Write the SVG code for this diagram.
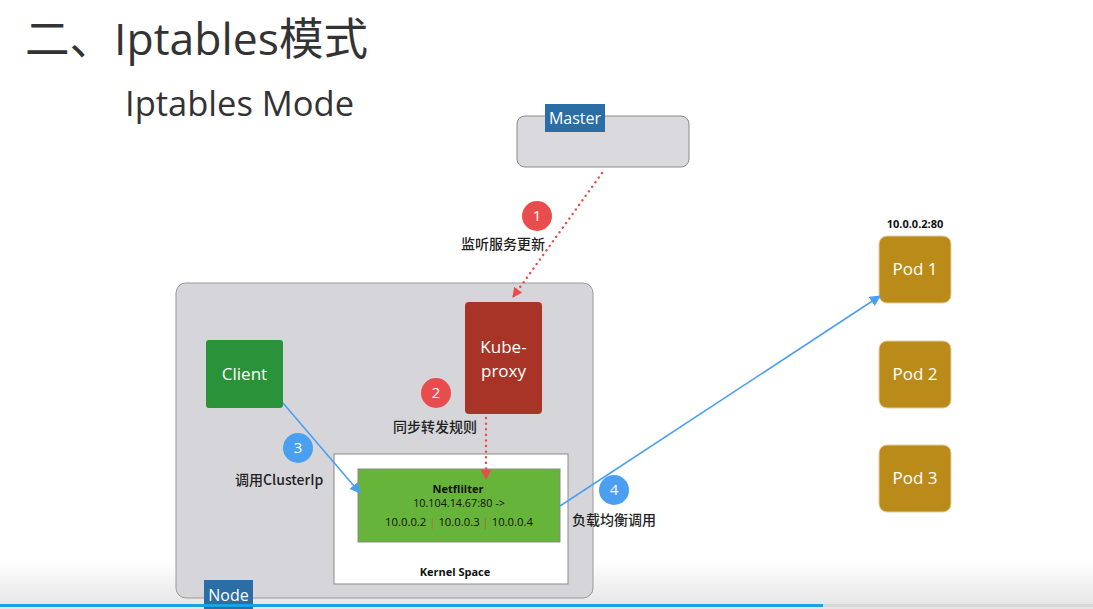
<svg xmlns="http://www.w3.org/2000/svg" width="1093" height="609" viewBox="0 0 1093 609">
<defs>
<linearGradient id="bg" x1="0" y1="0" x2="0" y2="1">
<stop offset="0" stop-color="#ffffff"/>
<stop offset="0.92" stop-color="#ffffff"/>
<stop offset="1" stop-color="#e4e4e4"/>
</linearGradient>
<marker id="redArrow" viewBox="0 0 10 10" refX="9" refY="5" markerWidth="10" markerHeight="10" markerUnits="userSpaceOnUse" orient="auto">
<path d="M0,0 L10,5 L0,10 Z" fill="#e84c4c"/>
</marker>
<marker id="blueArrow" viewBox="0 0 10 10" refX="9" refY="5" markerWidth="11" markerHeight="11" markerUnits="userSpaceOnUse" orient="auto">
<path d="M0,0 L10,5 L0,10 Z" fill="#4a9ff0"/>
</marker>
</defs>
<style>
.t{font-family:"Open Sans","Noto Sans","Noto Sans CJK SC",sans-serif}
.cn{font-family:"Noto Sans CJK SC","Noto Sans",sans-serif;font-size:14px;fill:#222;font-weight:500}
.w{fill:#fff;font-size:17px;text-anchor:middle}
.tag{fill:#2b6ea6}
.badge-red{fill:#e84c4c}
.badge-blue{fill:#4a9ff0}
.num{fill:#fff;font-size:15px;text-anchor:middle}
.pod{fill:#bb8b1a;stroke:#e0d0a0;stroke-width:1}
.red{stroke:#e84c4c;stroke-width:2.4;stroke-dasharray:0.1 5.5;stroke-linecap:round;fill:none}
.blue{stroke:#4a9ff0;stroke-width:1.6;fill:none}
</style>
<rect x="0" y="0" width="1093" height="609" fill="url(#bg)"/>
<g id="title">
<text class="t" x="25" y="55" font-size="44.5" fill="#333">二、Iptables模式</text>
<text class="t" x="125" y="116" font-size="34.5" fill="#333">Iptables Mode</text>
</g>
<g id="master">
<rect x="517" y="116" width="172" height="51" rx="8" fill="#d9d9de" stroke="#8a8a8a" stroke-width="1"/>
<rect class="tag" x="545" y="104" width="60" height="28"/>
<text class="t" x="575" y="124" font-size="16" fill="#fff" text-anchor="middle">Master</text>
</g>
<g id="node">
<rect x="176" y="283" width="417" height="315" rx="10" fill="#d6d6da" stroke="#9a9a9a" stroke-width="1"/>
</g>
<g id="kernel-space">
<rect x="334" y="454" width="234" height="130" fill="#ffffff" stroke="#8a8a8a" stroke-width="1"/>
<text class="t" x="455" y="576" font-size="11" font-weight="bold" fill="#111" text-anchor="middle">Kernel Space</text>
</g>
<g id="netfilter">
<rect x="358" y="469" width="202" height="73" fill="#67b43a" stroke="#8a8a8a" stroke-width="1"/>
<text class="t" x="458" y="493" font-size="11" font-weight="bold" fill="#111" text-anchor="middle">Netflilter</text>
<text class="t" x="459" y="507" font-size="10.8" fill="#111" text-anchor="middle">10.104.14.67:80 -&gt;</text>
<text class="t" x="459" y="526" font-size="11.3" fill="#111" text-anchor="middle">10.0.0.2 <tspan fill="#c0682a">|</tspan> 10.0.0.3 <tspan fill="#c0682a">|</tspan> 10.0.0.4</text>
</g>
<g id="node-label">
<rect class="tag" x="204" y="580" width="49" height="29"/>
<text class="t" x="228.5" y="601" font-size="16" fill="#fff" text-anchor="middle">Node</text>
</g>
<g id="client">
<rect x="206" y="340" width="77" height="68" rx="3" fill="#2a9238"/>
<text class="t w" x="244.5" y="380">Client</text>
</g>
<g id="kube-proxy">
<rect x="465" y="302" width="77" height="112" rx="4" fill="#a83428"/>
<text class="t w" x="503.5" y="353">Kube-</text>
<text class="t w" x="503.5" y="377">proxy</text>
</g>
<g id="pod1">
<text class="t" x="915" y="228" font-size="11" font-weight="bold" fill="#111" text-anchor="middle">10.0.0.2:80</text>
<rect class="pod" x="879" y="236" width="72" height="67" rx="8"/>
<text class="t w" x="915" y="275">Pod 1</text>
</g>
<g id="pod2">
<rect class="pod" x="879" y="341" width="72" height="67" rx="8"/>
<text class="t w" x="915" y="380">Pod 2</text>
</g>
<g id="pod3">
<rect class="pod" x="879" y="445" width="72" height="67" rx="8"/>
<text class="t w" x="915" y="484">Pod 3</text>
</g>
<g id="connectors">
<line class="red" x1="602" y1="173" x2="513" y2="297" marker-end="url(#redArrow)"/>
<line class="red" x1="486" y1="418" x2="486" y2="479" marker-end="url(#redArrow)"/>
<line class="blue" x1="283" y1="403" x2="360" y2="493" marker-end="url(#blueArrow)"/>
<line class="blue" x1="560" y1="506" x2="880" y2="296" marker-end="url(#blueArrow)"/>
</g>
<g id="step1">
<circle class="badge-red" cx="537" cy="216" r="15"/>
<text class="t num" x="537" y="221">1</text>
<text class="cn" x="461" y="249">监听服务更新</text>
</g>
<g id="step2">
<circle class="badge-red" cx="436" cy="393" r="15"/>
<text class="t num" x="436" y="398">2</text>
<text class="cn" x="393" y="432">同步转发规则</text>
</g>
<g id="step3">
<circle class="badge-blue" cx="298" cy="448" r="15"/>
<text class="t num" x="298" y="453">3</text>
<text class="cn" x="235" y="485">调用ClusterIp</text>
</g>
<g id="step4">
<circle class="badge-blue" cx="614" cy="490" r="15"/>
<text class="t num" x="614" y="495">4</text>
<text class="cn" x="572" y="525">负载均衡调用</text>
</g>
<g id="progress">
<rect x="0" y="604" width="1093" height="3" fill="#d8d8d8"/>
<rect x="0" y="604" width="823" height="3" fill="#1aa3e0"/>
</g>
</svg>
